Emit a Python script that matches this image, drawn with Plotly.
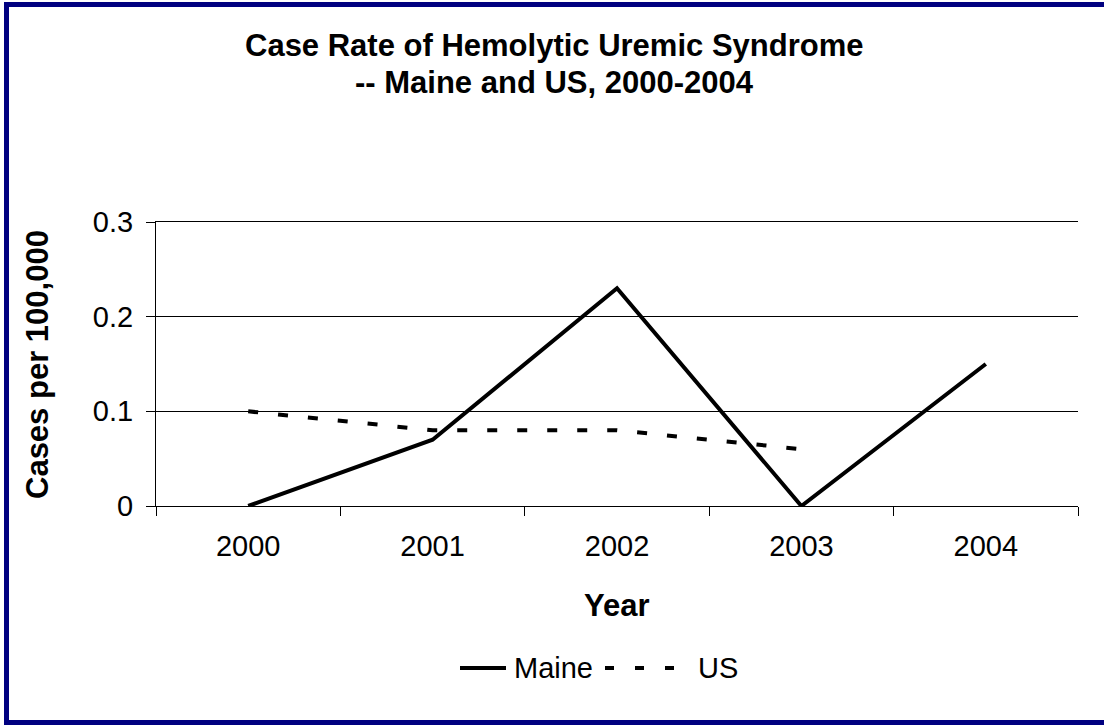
import plotly.graph_objects as go

years = ["2000", "2001", "2002", "2003", "2004"]
maine = [0.0, 0.07, 0.23, 0.0, 0.15]
us = [0.10, 0.08, 0.08, 0.06, None]

W, H = 1104, 725
L, R, T, B = 156, 26, 222, 219
pw, ph = W - L - R, H - T - B


def px(x):
    return (x - L) / pw


def py(y):
    return (H - B - y) / ph


FONT = "Arial, Liberation Sans, sans-serif"

fig = go.Figure()
fig.add_trace(go.Scatter(x=years, y=maine, name="Maine", mode="lines",
                         line=dict(color="black", width=4)))
fig.add_trace(go.Scatter(x=years, y=us, name="US", mode="lines",
                         line=dict(color="black", width=4, dash="10px,20px")))

fig.update_layout(
    width=W, height=H,
    margin=dict(l=L, r=R, t=T, b=B, autoexpand=False),
    paper_bgcolor="white", plot_bgcolor="white",
    font=dict(family=FONT, size=29, color="black"),
    showlegend=False,
    xaxis=dict(type="category", range=[-0.5, 4.5], tickson="boundaries", ticks="outside",
               ticklen=9, tickcolor="black", showgrid=False, showline=True, mirror=True,
               linecolor="black", linewidth=1, zeroline=False, tickfont=dict(size=29),
               ticklabelstandoff=14),
    yaxis=dict(range=[0, 0.3], dtick=0.1, ticks="outside", ticklen=9, tickcolor="black",
               showgrid=True, gridcolor="black", gridwidth=1, showline=True,
               linecolor="black", linewidth=1, zeroline=False, tickfont=dict(size=29),
               ticklabelstandoff=7),
    annotations=[
        dict(text="<b>Case Rate of Hemolytic Uremic Syndrome</b>", x=px(554), y=py(46),
             xref="paper", yref="paper", showarrow=False, font=dict(size=31),
             xanchor="center", yanchor="middle"),
        dict(text="<b>-- Maine and US, 2000-2004</b>", x=px(554), y=py(82),
             xref="paper", yref="paper", showarrow=False, font=dict(size=31),
             xanchor="center", yanchor="middle"),
        dict(text="<b>Year</b>", x=px(617), y=py(605), xref="paper", yref="paper",
             showarrow=False, font=dict(size=31), xanchor="center", yanchor="middle"),
        dict(text="<b>Cases per 100,000</b>", x=px(37), y=py(364), xref="paper", yref="paper",
             showarrow=False, font=dict(size=31), textangle=-90,
             xanchor="center", yanchor="middle"),
        # legend labels
        dict(text="Maine", x=px(512), y=py(668), xref="paper", yref="paper",
             showarrow=False, font=dict(size=29), xanchor="left", yanchor="middle"),
        dict(text="US", x=px(696), y=py(668), xref="paper", yref="paper",
             showarrow=False, font=dict(size=29), xanchor="left", yanchor="middle"),
    ],
    shapes=[
        dict(type="rect", xref="paper", yref="paper", x0=px(6.5), x1=px(1118),
             y0=py(722.5), y1=py(4.5), line=dict(color="#000080", width=5),
             fillcolor="rgba(0,0,0,0)", layer="above"),
        # legend symbols
        dict(type="line", xref="paper", yref="paper", x0=px(460), x1=px(506),
             y0=py(668), y1=py(668), line=dict(color="black", width=4)),
        dict(type="line", xref="paper", yref="paper", x0=px(605), x1=px(675),
             y0=py(668), y1=py(668), line=dict(color="black", width=4, dash="9px,21px")),
    ],
)

fig.write_html("out.html", config={"displayModeBar": False},
               post_script="document.body.style.margin='0';")
